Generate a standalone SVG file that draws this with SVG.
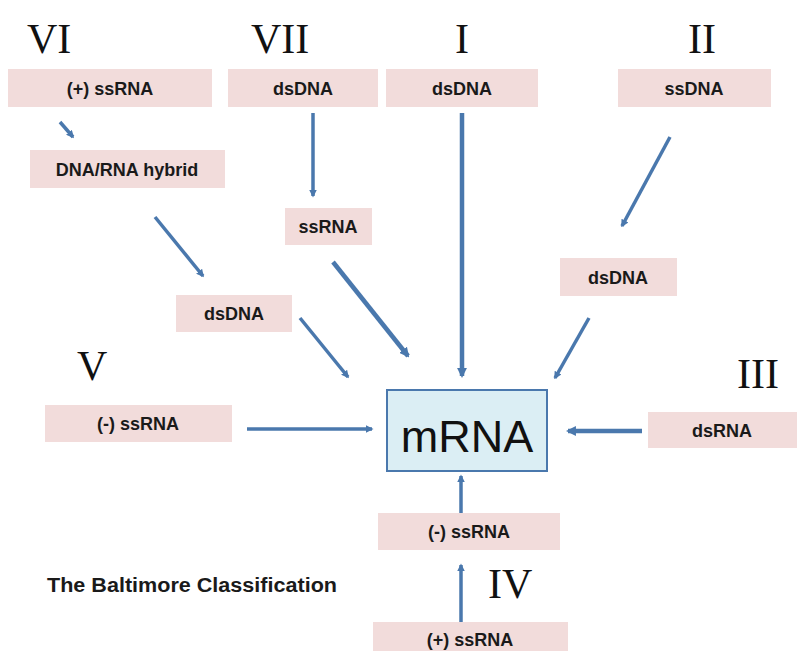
<svg xmlns="http://www.w3.org/2000/svg" width="797" height="651" viewBox="0 0 797 651">
<defs>
<style>
.box{fill:#f2dcdb;}
.lbl{font-family:"Liberation Sans",Arial,sans-serif;font-weight:bold;font-size:18px;fill:#1a1a1a;text-anchor:middle;}
.num{font-family:"Liberation Serif","Times New Roman",serif;font-size:42px;fill:#111;}
.ar{stroke:#4a78ad;fill:none;stroke-width:3.5;marker-end:url(#ah);}
.thick{stroke-width:4.5;}
</style>
<marker id="ah" viewBox="0 0 10 10" refX="8" refY="5" markerWidth="2.2" markerHeight="2.2" orient="auto" markerUnits="strokeWidth">
<path d="M0,0 L10,5 L0,10 z" fill="#4a78ad"/>
</marker>
</defs>
<rect width="797" height="651" fill="#ffffff"/>

<g id="numerals">
<text class="num" x="27" y="53">VI</text>
<text class="num" x="251" y="53">VII</text>
<text class="num" x="455" y="53">I</text>
<text class="num" x="688" y="53">II</text>
<text class="num" x="77" y="380">V</text>
<text class="num" x="737" y="388">III</text>
<text class="num" x="488" y="598">IV</text>
</g>

<g id="n-vi-ssrna"><rect class="box" x="8" y="69" width="204" height="38"/><text class="lbl" x="110" y="95">(+) ssRNA</text></g>
<g id="n-vii-dsdna"><rect class="box" x="228" y="69" width="150" height="38"/><text class="lbl" x="303" y="95">dsDNA</text></g>
<g id="n-i-dsdna"><rect class="box" x="386" y="69" width="152" height="38"/><text class="lbl" x="462" y="95">dsDNA</text></g>
<g id="n-ii-ssdna"><rect class="box" x="618" y="69" width="153" height="38"/><text class="lbl" x="694" y="95">ssDNA</text></g>
<g id="n-hybrid"><rect class="box" x="30" y="150" width="195" height="38"/><text class="lbl" x="127" y="176">DNA/RNA hybrid</text></g>
<g id="n-vii-ssrna"><rect class="box" x="285" y="208" width="87" height="37"/><text class="lbl" x="328" y="233">ssRNA</text></g>
<g id="n-vi-dsdna"><rect class="box" x="176" y="295" width="116" height="37"/><text class="lbl" x="234" y="320">dsDNA</text></g>
<g id="n-ii-dsdna"><rect class="box" x="560" y="258" width="117" height="38"/><text class="lbl" x="618" y="284">dsDNA</text></g>
<g id="n-v-ssrna"><rect class="box" x="45" y="405" width="187" height="37"/><text class="lbl" x="138" y="430">(-) ssRNA</text></g>
<g id="n-iii-dsrna"><rect class="box" x="648" y="412" width="149" height="36"/><text class="lbl" x="722" y="437">dsRNA</text></g>
<g id="n-iv-neg"><rect class="box" x="378" y="513" width="182" height="37"/><text class="lbl" x="469" y="538">(-) ssRNA</text></g>
<g id="n-iv-pos"><rect class="box" x="373" y="622" width="195" height="36"/><text class="lbl" x="470" y="646">(+)  ssRNA</text></g>

<g id="n-mrna">
<rect x="387" y="390" width="160" height="81" fill="#dbeef4" stroke="#4a78ad" stroke-width="2"/>
<text x="467" y="452" font-family="'Liberation Sans',Arial,sans-serif" font-size="45" fill="#111" text-anchor="middle">mRNA</text>
</g>

<g id="title">
<text x="47" y="592" font-family="'Liberation Sans',Arial,sans-serif" font-weight="bold" font-size="20" fill="#1a1a1a" textLength="290" lengthAdjust="spacingAndGlyphs">The Baltimore Classification</text>
</g>

<g id="connectors">
<line class="ar" x1="60" y1="122" x2="73" y2="137"/>
<line class="ar" x1="155" y1="217" x2="203" y2="276"/>
<line class="ar" x1="300" y1="318" x2="348" y2="377"/>
<line class="ar" x1="313" y1="113" x2="313" y2="196"/>
<line class="ar thick" x1="333" y1="262" x2="408" y2="356"/>
<line class="ar thick" x1="462" y1="113" x2="462" y2="376"/>
<line class="ar" x1="670" y1="137" x2="622" y2="226"/>
<line class="ar" x1="589" y1="318" x2="555" y2="378"/>
<line class="ar" x1="247" y1="429" x2="372" y2="429"/>
<line class="ar thick" x1="642" y1="431" x2="568" y2="431"/>
<line class="ar" x1="461" y1="513" x2="461" y2="476"/>
<line class="ar" x1="461" y1="622" x2="461" y2="565"/>
</g>
</svg>
